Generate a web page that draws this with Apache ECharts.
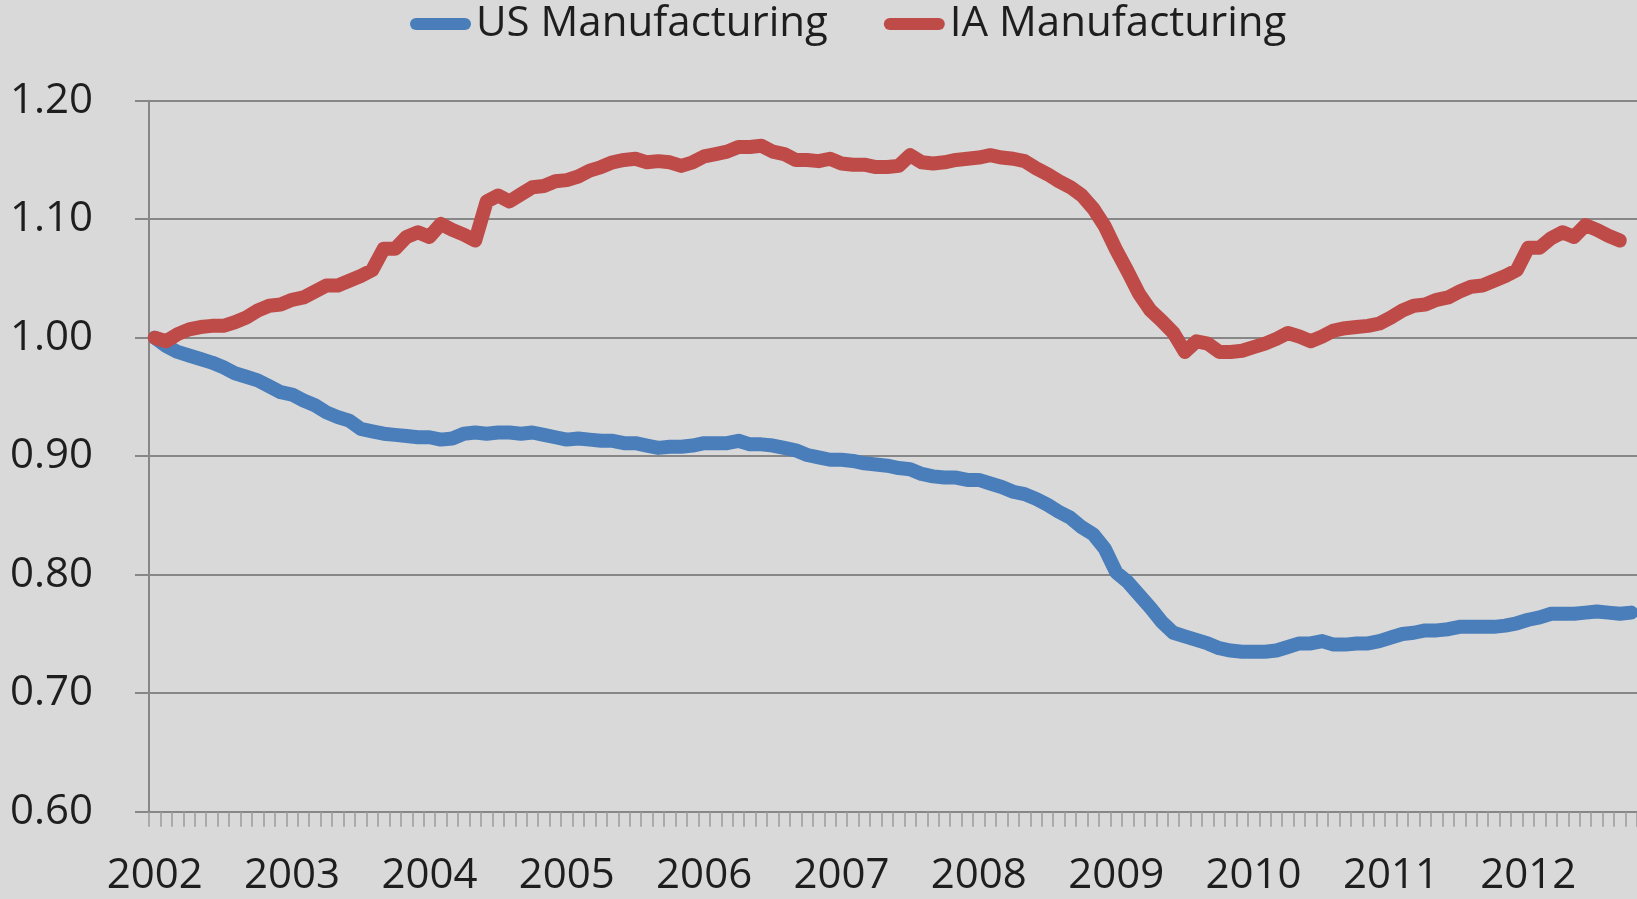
<!DOCTYPE html>
<html>
<head>
<meta charset="utf-8">
<script src="https://cdn.jsdelivr.net/npm/echarts@6/dist/echarts.min.js"></script>
<style>
  html, body { margin: 0; padding: 0; background: #d9d9d9; }
  #chart { width: 1637px; height: 899px; }
</style>
</head>
<body>
<div id="chart"></div>
<script>
// Monthly index values, Jan 2002 = 1.00
const years = ["2002", "2003", "2004", "2005", "2006", "2007", "2008", "2009", "2010", "2011", "2012"];
const seriesNames = ["US Manufacturing", "IA Manufacturing"];

const usManufacturing = [
  1.000, 0.993, 0.988, 0.985, 0.982, 0.979, 0.975, 0.970, 0.967, 0.964, 0.959, 0.954,
  0.952, 0.947, 0.943, 0.937, 0.933, 0.930, 0.923, 0.921, 0.919, 0.918, 0.917, 0.916,
  0.916, 0.914, 0.915, 0.919, 0.920, 0.919, 0.920, 0.920, 0.919, 0.920, 0.918, 0.916,
  0.914, 0.915, 0.914, 0.913, 0.913, 0.911, 0.911, 0.909, 0.907, 0.908, 0.908, 0.909,
  0.911, 0.911, 0.911, 0.913, 0.910, 0.910, 0.909, 0.907, 0.905, 0.901, 0.899, 0.897,
  0.897, 0.896, 0.894, 0.893, 0.892, 0.890, 0.889, 0.885, 0.883, 0.882, 0.882, 0.880,
  0.880, 0.877, 0.874, 0.870, 0.868, 0.864, 0.859, 0.853, 0.848, 0.840, 0.834, 0.822,
  0.802, 0.794, 0.783, 0.772, 0.760, 0.751, 0.748, 0.745, 0.742, 0.738, 0.736, 0.735,
  0.735, 0.735, 0.736, 0.739, 0.742, 0.742, 0.744, 0.741, 0.741, 0.742, 0.742, 0.744,
  0.747, 0.750, 0.751, 0.753, 0.753, 0.754, 0.756, 0.756, 0.756, 0.756, 0.757, 0.759,
  0.762, 0.764, 0.767, 0.767, 0.767, 0.768, 0.769, 0.768, 0.767, 0.768
];

const iaManufacturing = [
  1.000, 0.997, 1.003, 1.007, 1.009, 1.010, 1.010, 1.013, 1.017, 1.023, 1.027, 1.028,
  1.032, 1.034, 1.039, 1.044, 1.044, 1.048, 1.052, 1.057, 1.075, 1.075, 1.085, 1.089,
  1.085, 1.096, 1.091, 1.087, 1.082, 1.115, 1.120, 1.115, 1.121, 1.127, 1.128, 1.132,
  1.133, 1.136, 1.141, 1.144, 1.148, 1.150, 1.151, 1.148, 1.149, 1.148, 1.145, 1.148,
  1.153, 1.155, 1.157, 1.161, 1.161, 1.162, 1.157, 1.155, 1.150, 1.150, 1.149, 1.151,
  1.147, 1.146, 1.146, 1.144, 1.144, 1.145, 1.154, 1.148, 1.147, 1.148, 1.150, 1.151,
  1.152, 1.154, 1.152, 1.151, 1.149, 1.143, 1.138, 1.132, 1.127, 1.120, 1.109, 1.094,
  1.074, 1.056, 1.037, 1.023, 1.014, 1.004, 0.988, 0.997, 0.995, 0.988, 0.988, 0.989,
  0.992, 0.995, 0.999, 1.004, 1.001, 0.997, 1.001, 1.006, 1.008, 1.009, 1.010, 1.012,
  1.017, 1.023, 1.027, 1.028, 1.032, 1.034, 1.039, 1.043, 1.044, 1.048, 1.052, 1.057,
  1.076, 1.076, 1.084, 1.089, 1.085, 1.095, 1.091, 1.086, 1.082
];

// one category per month, Jan 2002 .. Oct 2012
const months = [];
years.forEach(y => {
  for (let m = 1; m <= 12; m++) months.push(y + "-" + String(m).padStart(2, "0"));
});
months.length = usManufacturing.length;

const chart = echarts.init(document.getElementById("chart"));
const font = "'Open Sans', sans-serif";
const gridGray = "#878787";

const pill = "path://M6,0 H55 A6,6 0 0 1 55,12 H6 A6,6 0 0 1 6,0 Z";

chart.setOption({
  backgroundColor: "#d9d9d9",
  animation: false,
  color: ["#4a7ebb", "#be4b48"],
  legend: {
    data: seriesNames,
    left: 405,
    top: -2,
    icon: pill,
    itemWidth: 61,
    itemHeight: 13,
    itemGap: 56,
    textStyle: { fontFamily: font, fontSize: 42, color: "#1e1e1e" }
  },
  grid: { left: 149, top: 100.7, bottom: 87.3, right: 0, containLabel: false },
  xAxis: {
    type: "category",
    data: months,
    boundaryGap: true,
    axisLine: { lineStyle: { color: gridGray, width: 2 } },
    axisTick: { show: true, inside: false, interval: 0, length: 15, lineStyle: { color: "#9a9a9a", width: 1.5 } },
    axisLabel: {
      interval: 11,
      margin: 43,
      fontFamily: font,
      fontSize: 42,
      color: "#1e1e1e",
      formatter: v => v.slice(0, 4)
    },
    splitLine: { show: false }
  },
  yAxis: {
    type: "value",
    min: 0.6,
    max: 1.2,
    interval: 0.1,
    axisLine: { show: true, lineStyle: { color: gridGray, width: 2 } },
    axisTick: { show: true, length: 14, lineStyle: { color: gridGray, width: 2 } },
    axisLabel: {
      margin: 56,
      fontFamily: font,
      fontSize: 42,
      color: "#1e1e1e",
      formatter: v => v.toFixed(2)
    },
    splitLine: { lineStyle: { color: gridGray, width: 2 } }
  },
  series: [
    {
      name: seriesNames[0],
      type: "line",
      data: usManufacturing,
      symbol: "none",
      lineStyle: { width: 14, cap: "round", join: "round" }
    },
    {
      name: seriesNames[1],
      type: "line",
      data: iaManufacturing,
      symbol: "none",
      lineStyle: { width: 14, cap: "round", join: "round" }
    }
  ]
});
</script>
</body>
</html>
